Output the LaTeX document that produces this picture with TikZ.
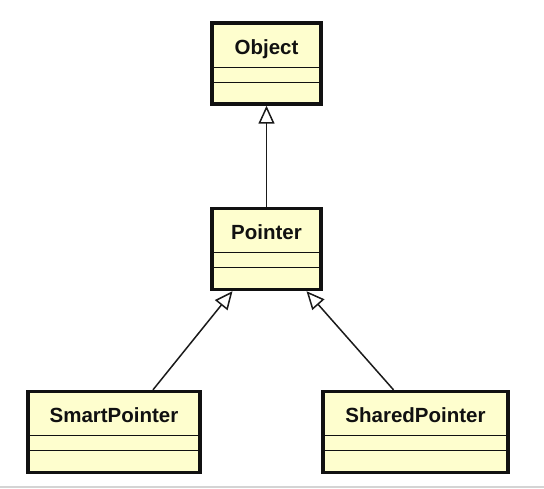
\documentclass[tikz,border=0pt]{standalone}
\usepackage{fontspec}
\setmainfont{Liberation Sans}
\usetikzlibrary{arrows.meta,positioning,calc}
\definecolor{ink}{HTML}{111111}
\definecolor{classfill}{HTML}{FEFECE}
\definecolor{edge}{HTML}{1A1A1A}
\definecolor{rule}{HTML}{D4D4D4}
\tikzset{
  classbox/.style={draw=ink,fill=classfill,line width=3.4pt,minimum height=81pt,inner sep=0pt},
  classname/.style={font=\fontsize{20.5}{24}\selectfont\bfseries,text=ink,inner sep=0pt,anchor=base},
  divider/.style={draw=ink,line width=1.3pt},
  inherit/.style={-{Triangle[open,length=18pt,width=16pt]},line width=1.5pt,draw=edge}
}

\begin{document}
\begin{tikzpicture}[x=1pt,y=-1pt]
    \useasboundingbox (0,0) rectangle (544,488);

    \node[classbox,minimum width=109pt] (object) at (266.5,63.5) {};
    \node[classbox,minimum width=109pt] (pointer) at (266.5,249) {};
    \node[classbox,minimum width=172pt] (smart) at (114,432) {};
    \node[classbox,minimum width=185pt] (shared) at (415.5,432) {};

    \node[classname] (objectname) at ([yshift=-33pt]object.north) {Object};
    \node[classname] (pointername) at ([yshift=-33pt]pointer.north) {Pointer};
    \node[classname] (smartname) at ([yshift=-33pt]smart.north) {SmartPointer};
    \node[classname] (sharedname) at ([yshift=-33pt]shared.north) {SharedPointer};

    % attribute and operation compartments
    \foreach \c in {object,pointer,smart,shared} {
      \draw[divider] ([yshift=-46pt]\c.north west) -- ([yshift=-46pt]\c.north east);
      \draw[divider] ([yshift=-61pt]\c.north west) -- ([yshift=-61pt]\c.north east);
    }

    \draw[inherit] (pointer) -- (object);
    \draw[inherit] ([xshift=39pt]smart.north) -- ([xshift=-34pt]pointer.south);
    \draw[inherit] ([xshift=-22pt]shared.north) -- ([xshift=40pt]pointer.south);

    \draw[draw=rule,line width=2pt] (0,487) -- (544,487);
  \end{tikzpicture}
\end{document}
